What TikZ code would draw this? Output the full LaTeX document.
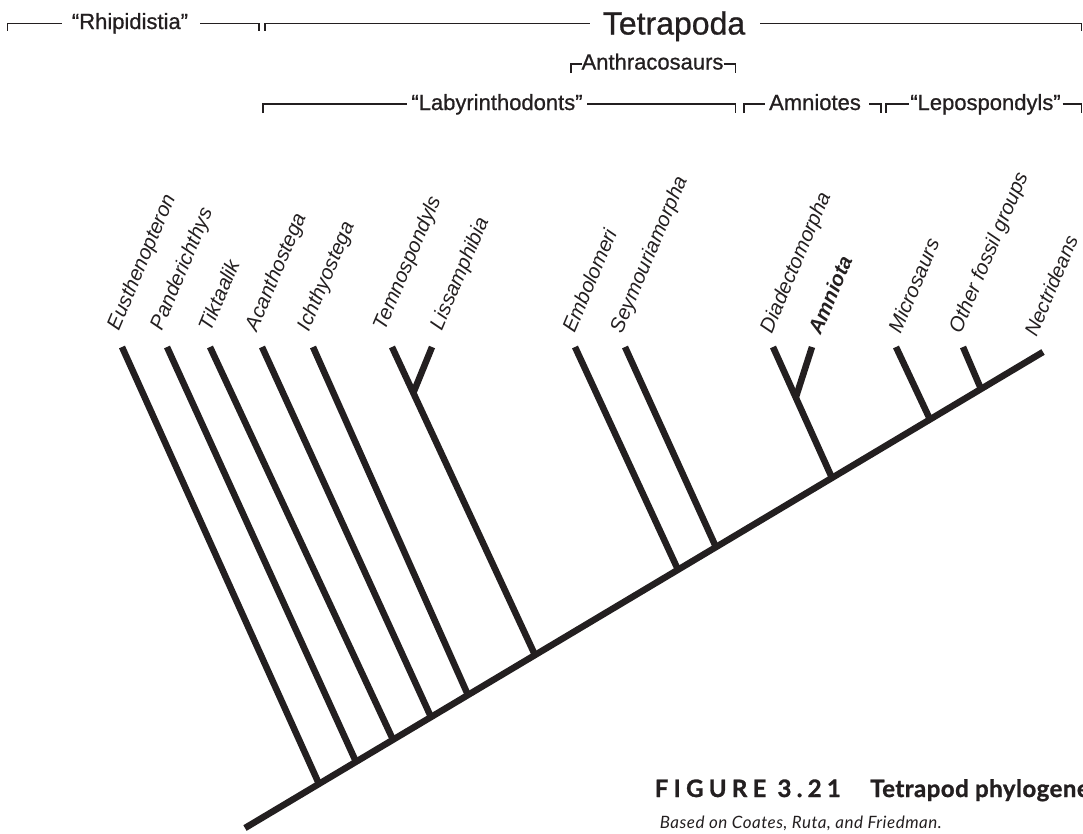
\documentclass[tikz,border=0pt]{standalone}
\usepackage{fontspec}
\setmainfont{Liberation Sans}
\newfontfamily\hdfont[FakeBold=0.8]{Liberation Sans}
\newfontfamily\capfont[FakeBold=1.2,LetterSpace=2]{Lato}
\newfontfamily\capfontsp[FakeBold=1.2,LetterSpace=22]{Lato}
\newfontfamily\srcfont[LetterSpace=3]{Lato}
\usetikzlibrary{calc}
\definecolor{ink}{HTML}{231F20}
\begin{document}
\begin{tikzpicture}[x=1pt,y=-1pt,
  branch/.style={line width=6.5pt, draw=ink, line cap=butt},
  taxon/.style={rotate=67, anchor=south west, inner sep=0pt, text=ink,
    font=\fontsize{20.5}{20.5}\selectfont\itshape},
  clade/.style={inner sep=0pt, anchor=base, text=ink,
    font=\hdfont\fontsize{22}{22}\selectfont},
  rule/.style={draw=ink, line width=1.1pt},
]
\useasboundingbox (0,0) rectangle (1083,833);

% ---------------- tree ----------------
\coordinate (r0) at (245,828);
\coordinate (r1) at (1043,352);
\draw[branch] (r0) -- (r1);

\coordinate (tEus)   at (122,347);
\coordinate (tPand)  at (167,347);
\coordinate (tTikt)  at (210,347);
\coordinate (tAcan)  at (262,347);
\coordinate (tIch)   at (313,347);
\coordinate (tTemno) at (392,347);
\coordinate (tLiss)  at (432,347);
\coordinate (tEmb)   at (575,347);
\coordinate (tSey)   at (625,347);
\coordinate (tDiad)  at (773,347);
\coordinate (tAmn)   at (812,347);
\coordinate (tMic)   at (896,347);
\coordinate (tOth)   at (963,347);

\coordinate (jEus)  at ($(r0)!0.0927!(r1)$);
\coordinate (jPand) at ($(r0)!0.1391!(r1)$);
\coordinate (jTikt) at ($(r0)!0.1855!(r1)$);
\coordinate (jAcan) at ($(r0)!0.2331!(r1)$);
\coordinate (jIch)  at ($(r0)!0.2794!(r1)$);
\coordinate (jTL)   at ($(r0)!0.3634!(r1)$);
\coordinate (jEmb)  at ($(r0)!0.5426!(r1)$);
\coordinate (jSey)  at ($(r0)!0.5902!(r1)$);
\coordinate (jAm)   at ($(r0)!0.7356!(r1)$);
\coordinate (jMic)  at ($(r0)!0.8584!(r1)$);
\coordinate (jOth)  at ($(r0)!0.9223!(r1)$);

\coordinate (fTL) at ($(tTemno)!0.149!(jTL)$);
\coordinate (fAm) at ($(tDiad)!0.386!(jAm)$);

\draw[branch] (tEus) -- (jEus);
\draw[branch] (tPand) -- (jPand);
\draw[branch] (tTikt) -- (jTikt);
\draw[branch] (tAcan) -- (jAcan);
\draw[branch] (tIch) -- (jIch);
\draw[branch] (tTemno) -- (jTL);
\draw[branch] (tLiss) -- (fTL);
\draw[branch] (tEmb) -- (jEmb);
\draw[branch] (tSey) -- (jSey);
\draw[branch] (tDiad) -- (jAm);
\draw[branch] (tAmn) -- (fAm);
\draw[branch] (tMic) -- (jMic);
\draw[branch] (tOth) -- (jOth);

% ---------------- taxon labels ----------------
\node[taxon] (lEus)   at (123,333) {Eusthenopteron};
\node[taxon] (lPand)  at (166,333) {Panderichthys};
\node[taxon] (lTikt)  at (211,333) {Tiktaalik};
\node[taxon] (lAcan)  at (261,334) {Acanthostega};
\node[taxon] (lIch)   at (313,334) {Ichthyostega};
\node[taxon] (lTemno) at (389,333) {Temnospondyls};
\node[taxon] (lLiss)  at (446,333) {Lissamphibia};
\node[taxon] (lEmb)   at (575,334) {Embolomeri};
\node[taxon] (lSey)   at (626,336) {Seymouriamorpha};
\node[taxon] (lDiad)  at (776,336) {Diadectomorpha};
\node[taxon, font=\fontsize{20.5}{20.5}\selectfont\bfseries\itshape] (lAmn) at (821,336) {Amniota};
\node[taxon] (lMic)   at (901,335) {Microsaurs};
\node[taxon] (lOth)   at (965,336) {Other fossil groups};
\node[taxon, font=\fontsize{20}{20}\selectfont\itshape] (lNec) at (1037,338) {Nectrideans};

% ---------------- clade brackets ----------------
% row 1
\node[clade] (hRhip) at (130,29) {“Rhipidistia”};
\coordinate (rhA) at (7.6,23.5);
\coordinate (rhB) at (62,23.5);
\coordinate (rhC) at (200,23.5);
\coordinate (rhD) at (259,23.5);
\draw[rule] ($(rhA)+(0,7)$) -- (rhA) -- (rhB);
\draw[rule] (rhC) -- (rhD) -- ++(0,7);

\node[clade, font=\hdfont\fontsize{32}{32}\selectfont] (hTetra) at (674,34.5) {Tetrapoda};
\coordinate (tpA) at (265,23.5);
\coordinate (tpB) at (590,23.5);
\coordinate (tpC) at (760,23.5);
\coordinate (tpD) at (1081.5,23.5);
\draw[rule] ($(tpA)+(0,7)$) -- (tpA) -- (tpB);
\draw[rule] (tpC) -- (tpD) -- ++(0,7);

% row 2
\node[clade] (hAnth) at (652.5,69.5) {Anthracosaurs};
\coordinate (anA) at (571,64);
\coordinate (anB) at (581.5,64);
\coordinate (anC) at (723.5,64);
\coordinate (anD) at (735.5,64);
\draw[rule] ($(anA)+(0,9)$) -- (anA) -- (anB);
\draw[rule] (anC) -- (anD) -- ++(0,9);

% row 3
\node[clade] (hLab) at (497,110) {“Labyrinthodonts”};
\coordinate (lbA) at (263,104);
\coordinate (lbB) at (407,104);
\coordinate (lbC) at (587,104);
\coordinate (lbD) at (735.5,104);
\draw[rule] ($(lbA)+(0,9)$) -- (lbA) -- (lbB);
\draw[rule] (lbC) -- (lbD) -- ++(0,9);

\node[clade] (hAmn) at (815,110) {Amniotes};
\coordinate (amA) at (744,104);
\coordinate (amB) at (765,104);
\coordinate (amC) at (869,104);
\coordinate (amD) at (881,104);
\draw[rule] ($(amA)+(0,9)$) -- (amA) -- (amB);
\draw[rule] (amC) -- (amD) -- ++(0,9);

\node[clade] (hLep) at (985.5,110) {“Lepospondyls”};
\coordinate (lpA) at (886,104);
\coordinate (lpB) at (908.5,104);
\coordinate (lpC) at (1062.5,104);
\coordinate (lpD) at (1081.5,104);
\draw[rule] ($(lpA)+(0,9)$) -- (lpA) -- (lpB);
\draw[rule] (lpC) -- (lpD) -- ++(0,9);

% ---------------- caption ----------------
\node[anchor=base east, inner sep=0pt, text=ink,
  font=\capfontsp\bfseries\fontsize{24}{24}\selectfont] (figno) at (841,797) {FIGURE 3.21};
\node[anchor=base west, inner sep=0pt, text=ink,
  font=\capfont\bfseries\fontsize{24}{24}\selectfont] (figtitle) at (870,797) {Tetrapod phylogene};
\node[anchor=base east, inner sep=0pt, text=ink,
  font=\srcfont\itshape\fontsize{17}{17}\selectfont] (src) at (942,828) {Based on Coates, Ruta, and Friedman.};
\end{tikzpicture}
\end{document}
